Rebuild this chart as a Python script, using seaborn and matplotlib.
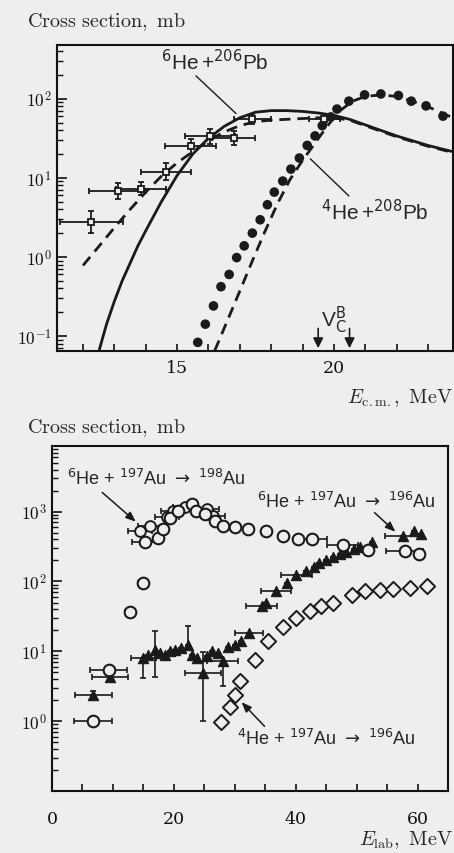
import numpy as np
import pandas as pd
import matplotlib
matplotlib.use("Agg")
import matplotlib.pyplot as plt
from matplotlib.ticker import MultipleLocator, LogLocator, NullFormatter, FixedLocator
import seaborn as sns

# ---------------- data: top panel (E_cm in MeV, sigma in mb) ----------------
he6_pb_theory_E = [12.5, 12.75, 13.0, 13.25, 13.5, 13.75, 14.0, 14.5, 15.0, 15.5, 16.0, 16.5, 17.0,
                   17.5, 18.0, 18.5, 19.0, 19.5, 20.0, 20.5, 21.0, 21.5, 22.0, 22.5, 23.0, 23.5, 23.8]
he6_pb_theory_sig = [0.063, 0.141, 0.275, 0.50, 0.83, 1.38, 2.14, 5.0, 10.7, 20.0, 31.6, 44.7, 57.5,
                     67.6, 70.8, 70.8, 69.2, 66.1, 61.7, 55.0, 46.8, 39.8, 33.9, 29.5, 25.7, 22.9, 21.4]

he6_pb_theory2_E = [12.0, 12.5, 13.0, 13.5, 14.0, 14.5, 15.0, 15.5, 16.0, 16.5, 17.0, 17.5, 18.0,
                    18.5, 19.0, 19.5, 20.0, 20.5, 21.0, 22.0, 23.0, 23.8]
he6_pb_theory2_sig = [0.78, 1.35, 2.34, 3.98, 6.6, 10.5, 15.5, 21.4, 29.5, 38.0, 45.7, 51.3, 53.7,
                      55.0, 56.2, 57.5, 57.5, 53.7, 45.7, 33.1, 25.1, 20.9]

he4_pb_theory_E = [16.2, 16.6, 17.0, 17.4, 17.8, 18.2, 18.6, 19.0, 19.4, 19.8, 20.2, 20.6, 21.0,
                   21.5, 22.0, 22.5, 23.0, 23.5, 23.8]
he4_pb_theory_sig = [0.065, 0.155, 0.37, 0.89, 2.09, 4.68, 9.5, 16.6, 27.5, 45.7, 70.8, 93.3, 107,
                     112, 107, 93.3, 79.4, 64.6, 57.5]

he4_pb_data_E = [15.66, 15.9, 16.16, 16.4, 16.66, 16.9, 17.14, 17.4, 17.65, 17.88, 18.1, 18.37, 18.63,
                 18.9, 19.15, 19.4, 19.63, 19.9, 20.1, 20.48, 20.98, 21.5, 22.06, 22.47, 22.94, 23.48]
he4_pb_data_sig = [0.083, 0.141, 0.24, 0.42, 0.60, 0.98, 1.38, 2.0, 2.95, 4.57, 6.6, 9.1, 12.9,
                   17.8, 25.7, 33.9, 45.7, 58.9, 74.1, 93.3, 112, 115, 110, 93.3, 81.3, 60.3]

he6_pb_data_E = [12.27, 13.1, 13.85, 14.64, 15.43, 16.06, 16.8, 17.4, 19.7]
he6_pb_data_sig = [2.8, 6.9, 7.3, 12.0, 25.0, 34.0, 32.0, 56.0, 56.0]
he6_pb_data_xerr = [1.0, 0.9, 0.8, 0.8, 0.8, 0.8, 0.7, 0.6, 0.5]
he6_pb_data_yerr_lo = [0.8, 1.5, 1.3, 2.5, 5.0, 7.0, 6.0, 8.0, 7.0]
he6_pb_data_yerr_hi = [1.0, 1.8, 1.6, 3.5, 6.0, 8.0, 7.0, 9.0, 8.0]

vcb_E = [19.5, 20.5]

# ---------------- data: bottom panel (E_lab in MeV, sigma in mb) ----------------
au198_E = [6.7, 9.3, 12.8, 14.9, 15.2, 17.4, 18.2, 19.3, 20.7, 22.9, 23.7, 25.1, 26.7, 28.0,
           30.0, 32.1, 35.2, 37.9, 40.3, 42.6, 47.7, 51.8, 57.9, 60.3]
au198_sig = [1.0, 5.4, 37, 94, 370, 420, 570, 800, 1030, 1300, 1030, 940, 740, 630,
             610, 570, 520, 450, 410, 400, 330, 280, 270, 250]
au198_xerr = [3.1, 3.0, 0.8, 0.8, 2.0, 0, 0, 0, 0, 0, 0, 2.0, 0, 0,
              0, 0, 0, 0, 0, 2.5, 2.5, 0, 3.0, 0]

au198b_E = [14.4, 16.1, 18.9, 19.9, 21.8, 25.4, 26.4]
au198b_sig = [535, 630, 850, 1030, 1180, 1100, 880]
au198b_xerr = [2.0, 2.0, 2.0, 2.0, 2.0, 2.0, 2.0]

au196_E = [6.8, 9.5, 15.0, 15.8, 16.9, 17.8, 18.5, 19.3, 20.2, 21.2, 22.3, 23.0, 23.8, 24.8,
           25.5, 26.3, 27.2, 28.0, 28.9, 30.0, 31.1, 32.4, 34.4, 35.2, 36.8, 38.5, 40.1, 41.7,
           43.0, 43.9, 45.0, 46.1, 47.2, 48.3, 49.5, 50.5, 52.6, 57.6, 59.5, 60.6]
au196_sig = [2.4, 4.3, 8.0, 9.0, 10.5, 9.5, 8.8, 10.0, 10.5, 11.0, 12.2, 8.8, 7.9, 4.9,
             8.5, 10.0, 9.5, 7.2, 11.7, 12.5, 13.9, 18.0, 44, 50, 74, 95, 122, 143,
             160, 181, 200, 227, 245, 268, 290, 316, 373, 455, 520, 485]
au196_xerr = [3.1, 3.0, 2.0, 0, 0, 0, 0, 0, 0, 0, 0, 0, 0, 2.9,
              0, 0, 0, 2.5, 0, 0, 0, 2.3, 2.5, 0, 2.5, 0, 2.5, 0,
              0, 0, 0, 0, 0, 0, 0, 0, 0, 3.0, 0, 0]
au196_yerr_lo = [0.3, 0.6, 3.9, 0, 6.2, 0, 0, 0, 0, 0, 0, 0, 0, 3.9,
                 0, 0, 0, 4.0, 0, 0, 0, 0, 0, 0, 0, 0, 0, 0,
                 0, 0, 0, 0, 0, 0, 0, 0, 0, 0, 0, 0]
au196_yerr_hi = [0.3, 0.6, 0, 0, 9.0, 0, 0, 0, 0, 0, 10.8, 0, 0, 5.0,
                 0, 0, 0, 0, 0, 0, 0, 0, 0, 0, 0, 0, 0, 0,
                 0, 0, 0, 0, 0, 0, 0, 0, 0, 0, 0, 0]

he4_au196_E = [27.8, 29.2, 30.0, 30.8, 33.3, 35.5, 37.9, 40.1, 42.3, 44.2, 46.1, 49.2, 51.3,
               53.8, 56.0, 58.7, 61.5]
he4_au196_sig = [0.97, 1.6, 2.4, 3.7, 7.5, 14, 22, 30, 38, 45, 49, 63, 72, 75, 79, 82, 85]

# ---------------- style ----------------
BG = "#eeeeee"
sns.set_theme(style="ticks")
plt.rcParams.update({
    "mathtext.fontset": "cm",
    "font.family": ["DejaVu Serif"],
    "axes.linewidth": 1.5,
    "axes.edgecolor": "#111111",
    "xtick.direction": "in",
    "ytick.direction": "in",
    "xtick.color": "#111111",
    "ytick.color": "#111111",
    "axes.facecolor": BG,
    "figure.facecolor": BG,
})

fig = plt.figure(figsize=(4.54, 8.54), dpi=100)
W, H = 454.0, 854.0
ax1 = fig.add_axes([57 / W, 1 - 352 / H, (453 - 57) / W, (352 - 46) / H])
ax2 = fig.add_axes([52 / W, 1 - 792 / H, (448 - 52) / W, (792 - 447) / H])

K = "#1a1a1a"
SANS = dict(family=["Liberation Sans", "DejaVu Sans"], math_fontfamily="dejavusans")

def logfmt(v, pos):
    e = int(round(np.log10(v)))
    return r"$10^{%d}$" % e

def style_axes(ax):
    ax.set_yscale("log")
    for s in ["top", "right", "left", "bottom"]:
        ax.spines[s].set_visible(True)
        ax.spines[s].set_linewidth(1.5)
    ax.tick_params(axis="both", which="both", top=False, right=False, labelsize=12.5)
    ax.tick_params(axis="x", which="both", length=5, width=1.2)
    ax.tick_params(axis="y", which="major", length=7, width=1.2, pad=4)
    ax.tick_params(axis="y", which="minor", length=4, width=1.0)
    ax.yaxis.set_major_formatter(matplotlib.ticker.FuncFormatter(logfmt))
    ax.yaxis.set_minor_formatter(NullFormatter())
    ax.yaxis.set_minor_locator(LogLocator(base=10, subs=np.arange(2, 10)))
    ax.grid(False)

# ---------------- top panel ----------------
style_axes(ax1)
ax1.tick_params(axis="x", which="both", pad=6)
df_s = pd.DataFrame({"E": he6_pb_theory_E, "sig": he6_pb_theory_sig})
df_d = pd.DataFrame({"E": he6_pb_theory2_E, "sig": he6_pb_theory2_sig})
df_4 = pd.DataFrame({"E": he4_pb_theory_E, "sig": he4_pb_theory_sig})
df_4d = pd.DataFrame({"E": he4_pb_data_E, "sig": he4_pb_data_sig})

sns.lineplot(data=df_s, x="E", y="sig", ax=ax1, color=K, lw=2.0, sort=False)
sns.lineplot(data=df_d, x="E", y="sig", ax=ax1, color=K, lw=2.0, sort=False,
             linestyle=(0, (4, 2.5)))
sns.lineplot(data=df_4, x="E", y="sig", ax=ax1, color=K, lw=2.0, sort=False,
             linestyle=(0, (4, 2.5)))
sns.scatterplot(data=df_4d, x="E", y="sig", ax=ax1, color=K, s=48, edgecolor="none", zorder=5)

ax1.errorbar(he6_pb_data_E, he6_pb_data_sig, xerr=he6_pb_data_xerr,
             yerr=[he6_pb_data_yerr_lo, he6_pb_data_yerr_hi], fmt="s", ms=5,
             mfc=BG, mec=K, mew=1.3, ecolor=K, elinewidth=1.3, capsize=2.5, capthick=1.3, zorder=6)

ax1.set_xlim(11.17, 23.8)
ax1.set_ylim(10 ** -1.19, 10 ** 2.68)
ax1.xaxis.set_major_locator(FixedLocator([15, 20]))
ax1.xaxis.set_minor_locator(MultipleLocator(1))
ax1.set_xlabel("")
ax1.set_ylabel("")

ax1.text(16.19, 302, r"$^{6}$He$\,$+$^{206}$Pb", ha="center", va="center", fontsize=15, **SANS)
ax1.plot([15.6, 16.88], [195, 65], color=K, lw=1.0)
ax1.text(21.3, 3.8, r"$^{4}$He$\,$+$^{208}$Pb", ha="center", va="center", fontsize=15, **SANS)
ax1.plot([20.48, 19.25], [5.9, 17.4], color=K, lw=1.0)
ax1.text(20.0, 0.164, r"V$_{\mathrm{C}}^{\mathrm{B}}$", ha="center", va="center", fontsize=15, **SANS)
for e in vcb_E:
    ax1.annotate("", xy=(e, 10 ** -1.19), xytext=(e, 0.135),
                 arrowprops=dict(arrowstyle="-|>,head_length=0.5,head_width=0.25", color=K, lw=1.2))

fig.text(27 / W, 1 - 22 / H, r"$\mathrm{Cross\ section,\ mb}$", ha="left", va="center", fontsize=14.5)
fig.text(453 / W, 1 - 398 / H, r"$E_{\mathrm{c.m.}}\mathrm{,\ MeV}$", ha="right", va="center", fontsize=14.5)

# ---------------- bottom panel ----------------
style_axes(ax2)
ax2.tick_params(axis="x", which="both", pad=14)
df_c = pd.DataFrame({"E": au198_E, "sig": au198_sig})
df_cb = pd.DataFrame({"E": au198b_E, "sig": au198b_sig})
df_t = pd.DataFrame({"E": au196_E, "sig": au196_sig})
df_dm = pd.DataFrame({"E": he4_au196_E, "sig": he4_au196_sig})

ax2.errorbar(au198_E, au198_sig, xerr=au198_xerr, fmt="none", ecolor=K, elinewidth=1.2,
             capsize=2.5, capthick=1.2, zorder=3)
ax2.errorbar(au198b_E, au198b_sig, xerr=au198b_xerr, fmt="none", ecolor=K, elinewidth=1.2,
             capsize=2.5, capthick=1.2, zorder=3)
ax2.errorbar(au196_E, au196_sig, xerr=au196_xerr, yerr=[au196_yerr_lo, au196_yerr_hi],
             fmt="none", ecolor=K, elinewidth=1.2, capsize=2.5, capthick=1.2, zorder=3)

sns.scatterplot(data=df_t, x="E", y="sig", ax=ax2, marker="^", color=K, s=55,
                edgecolor=K, linewidth=0.8, zorder=5)
sns.scatterplot(data=df_cb, x="E", y="sig", ax=ax2, marker="o", s=60, facecolor=BG,
                edgecolor=K, linewidth=1.4, zorder=6)
sns.scatterplot(data=df_c, x="E", y="sig", ax=ax2, marker="o", s=70, facecolor=BG,
                edgecolor=K, linewidth=1.5, zorder=6)
sns.scatterplot(data=df_dm, x="E", y="sig", ax=ax2, marker="D", s=60, facecolor=BG,
                edgecolor=K, linewidth=1.4, zorder=6)

ax2.set_xlim(0, 65)
ax2.set_ylim(0.1, 10 ** 3.94)
ax2.xaxis.set_major_locator(FixedLocator([0, 20, 40, 60]))
ax2.xaxis.set_minor_locator(MultipleLocator(5))
ax2.set_xlabel("")
ax2.set_ylabel("")
ax2.yaxis.set_major_locator(FixedLocator([1, 10, 100, 1000]))

ax2.text(2.46, 3020, r"$^{6}$He + $^{197}$Au $\rightarrow$ $^{198}$Au", ha="left", va="center", fontsize=13, **SANS)
ax2.annotate("", xy=(14.1, 676), xytext=(7.9, 2000),
             arrowprops=dict(arrowstyle="-|>,head_length=0.5,head_width=0.2", color=K, lw=1.1))
ax2.text(33.6, 1435, r"$^{6}$He + $^{197}$Au $\rightarrow$ $^{196}$Au", ha="left", va="center", fontsize=13, **SANS)
ax2.annotate("", xy=(56.7, 485), xytext=(52.6, 1030),
             arrowprops=dict(arrowstyle="-|>,head_length=0.5,head_width=0.2", color=K, lw=1.1))
ax2.text(30.3, 0.57, r"$^{4}$He + $^{197}$Au $\rightarrow$ $^{196}$Au", ha="left", va="center", fontsize=13, **SANS)
ax2.annotate("", xy=(30.8, 2.0), xytext=(35.2, 0.79),
             arrowprops=dict(arrowstyle="-|>,head_length=0.5,head_width=0.2", color=K, lw=1.1))

fig.text(27 / W, 1 - 428 / H, r"$\mathrm{Cross\ section,\ mb}$", ha="left", va="center", fontsize=14.5)
fig.text(453 / W, 1 - 840 / H, r"$E_{\mathrm{lab}}\mathrm{,\ MeV}$", ha="right", va="center", fontsize=14.5)

fig.savefig("out.png", dpi=100, facecolor=BG)
